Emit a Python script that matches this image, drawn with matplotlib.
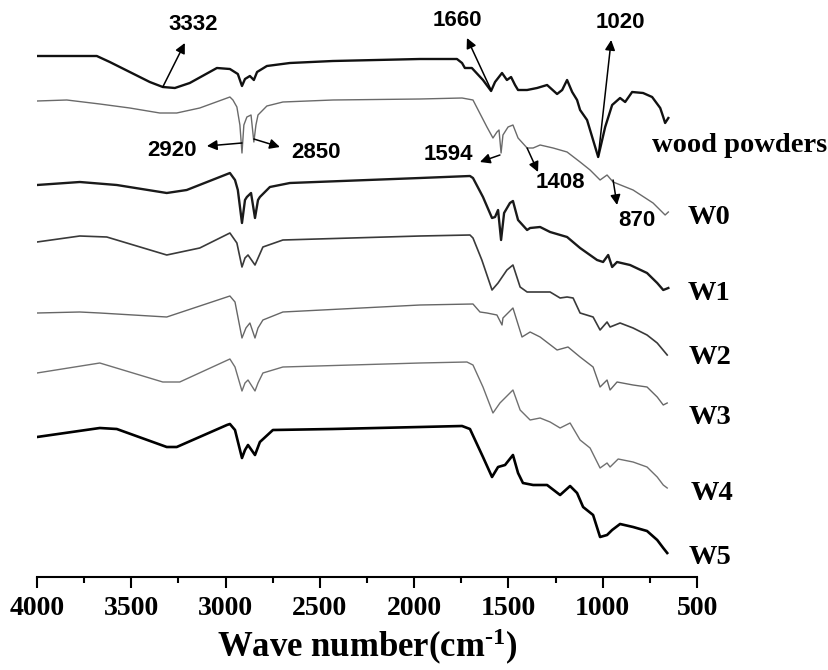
import matplotlib
matplotlib.use("Agg")
import matplotlib.pyplot as plt
from matplotlib.ticker import MultipleLocator

# ---------------- data (wavenumber in cm^-1, stacked transmittance in a.u.) ----------------
wood_wn = [4000, 3683, 3614, 3508, 3402, 3333, 3269, 3190, 3046, 2977, 2935, 2913, 2897, 2871,
           2850, 2833, 2781, 2659, 2431, 1969, 1773, 1746, 1731, 1694, 1635, 1592, 1571, 1534,
           1508, 1486, 1465, 1449, 1401, 1348, 1295, 1242, 1215, 1189, 1162, 1136, 1120, 1083,
           1024, 987, 950, 908, 881, 844, 786, 738, 695, 679, 669, 652]
wood_t = [521, 521, 515, 505, 495, 490, 489, 494, 509, 508, 503, 491, 498, 501,
          497, 505, 511, 514, 516, 518, 518, 514, 509, 509, 497, 486, 495, 504,
          497, 500, 492, 487, 487, 489, 492, 483, 487, 497, 485, 477, 467, 457,
          420, 450, 472, 479, 475, 485, 484, 480, 469, 460, 454, 459]

w0_wn = [4000, 3842, 3667, 3508, 3349, 3259, 3137, 2977, 2961, 2940, 2924, 2913, 2903, 2887,
         2865, 2850, 2839, 2828, 2781, 2696, 2431, 1969, 1746, 1688, 1614, 1582, 1561, 1550,
         1539, 1529, 1502, 1476, 1449, 1401, 1369, 1332, 1263, 1189, 1120, 1067, 1014, 977,
         945, 839, 733, 669, 652]
w0_t = [476, 477, 473, 469, 464, 464, 469, 480, 477, 470, 452, 424, 452, 460,
        462, 435, 452, 462, 471, 475, 477, 478, 479, 477, 450, 439, 445, 447,
        424, 442, 450, 452, 439, 429, 429, 432, 429, 425, 415, 407, 397, 402,
        395, 387, 374, 362, 365]

w1_wn = [4000, 3773, 3577, 3312, 3206, 2977, 2950, 2935, 2913, 2897, 2887, 2865, 2844, 2828,
         2818, 2765, 2659, 1969, 1704, 1688, 1635, 1587, 1571, 1555, 1539, 1523, 1492, 1476,
         1449, 1401, 1385, 1332, 1279, 1189, 1120, 1030, 998, 971, 950, 924, 855, 765, 711,
         679, 652]
w1_t = [392, 395, 392, 384, 387, 404, 397, 387, 354, 377, 380, 384, 359, 377,
        380, 390, 394, 399, 401, 399, 380, 359, 360, 367, 337, 364, 374, 376,
        357, 347, 349, 350, 345, 340, 329, 317, 315, 322, 310, 315, 312, 304, 294,
        287, 289]

w2_wn = [4000, 3773, 3630, 3312, 3137, 2977, 2940, 2913, 2897, 2881, 2844, 2802, 2696, 1969,
         1704, 1688, 1641, 1587, 1555, 1508, 1476, 1438, 1401, 1332, 1279, 1226, 1189, 1157,
         1120, 1051, 1014, 977, 961, 908, 839, 765, 711, 658]
w2_t = [335, 341, 340, 322, 329, 344, 334, 310, 319, 322, 312, 330, 337, 341,
        342, 339, 317, 287, 294, 307, 312, 290, 285, 285, 285, 279, 280, 279,
        264, 260, 247, 255, 250, 254, 249, 242, 234, 222]

w3_wn = [4000, 3773, 3667, 3312, 2993, 2977, 2950, 2913, 2892, 2871, 2844, 2828, 2802, 2696,
         1969, 1688, 1651, 1614, 1561, 1534, 1529, 1476, 1428, 1385, 1332, 1242, 1184, 1120,
         1051, 1014, 977, 961, 924, 839, 765, 711, 679, 658]
w3_t = [264, 265, 264, 260, 280, 281, 275, 239, 249, 254, 239, 249, 257, 265,
        272, 273, 265, 264, 262, 252, 259, 269, 240, 245, 240, 227, 230, 220,
        210, 190, 197, 187, 195, 192, 190, 180, 172, 174]

w4_wn = [4000, 3667, 3333, 3243, 2977, 2950, 2913, 2897, 2881, 2844, 2828, 2802, 2696, 1969,
         1720, 1688, 1635, 1582, 1545, 1476, 1438, 1385, 1332, 1279, 1226, 1173, 1120, 1067,
         1014, 977, 961, 918, 839, 765, 711, 679, 658]
w4_t = [204, 214, 195, 195, 218, 210, 186, 194, 197, 186, 194, 204, 210, 214,
        215, 212, 190, 164, 174, 187, 167, 157, 159, 155, 149, 154, 137, 129,
        109, 114, 110, 118, 115, 110, 100, 92, 89]

w5_wn = [4000, 3667, 3577, 3312, 3259, 2993, 2977, 2950, 2913, 2897, 2881, 2844, 2818, 2749,
         2431, 1969, 1746, 1704, 1635, 1587, 1555, 1518, 1476, 1449, 1423, 1369, 1295, 1226,
         1173, 1136, 1104, 1051, 1014, 977, 950, 908, 839, 765, 711, 679, 658]
w5_t = [140, 149, 148, 130, 130, 152, 153, 147, 119, 127, 132, 122, 135, 147,
        148, 150, 151, 148, 120, 100, 110, 112, 122, 104, 94, 92, 92, 82,
        91, 84, 70, 62, 40, 42, 47, 53, 50, 46, 37, 29, 24]

series_names = ["wood powders", "W0", "W1", "W2", "W3", "W4", "W5"]
peak_labels = ["3332", "2920", "2850", "1660", "1594", "1408", "1020", "870"]
x_ticks = [4000, 3500, 3000, 2500, 2000, 1500, 1000, 500]

# ---------------- figure ----------------
plt.rcParams['mathtext.fontset'] = 'custom'
plt.rcParams['mathtext.rm'] = 'Liberation Serif:bold'
plt.rcParams['mathtext.it'] = 'Liberation Serif:bold'
plt.rcParams['mathtext.bf'] = 'Liberation Serif:bold'

fig = plt.figure(figsize=(8.29, 6.70), dpi=100)
ax = fig.add_axes([37 / 829, 93 / 670, 660 / 829, 577 / 670])

series = [(wood_wn, wood_t), (w0_wn, w0_t), (w1_wn, w1_t), (w2_wn, w2_t),
          (w3_wn, w3_t), (w4_wn, w4_t), (w5_wn, w5_t)]
colors = ["#111111", "#6a6a6a", "#1a1a1a", "#3a3a3a", "#666666", "#707070", "#000000"]
widths = [1.7, 1.0, 1.7, 1.2, 1.0, 1.0, 1.9]
for (wn, t), c, lw in zip(series, colors, widths):
    ax.plot(wn, t, color=c, lw=lw, solid_joinstyle='round')

# curve labels
label_pos = [(738, 432), (552, 360), (552, 284), (547, 220), (547, 159), (536, 84), (547, 20)]
serif = dict(family='Liberation Serif', weight='bold', fontsize=20.5)
for name, (x, y) in zip(series_names, label_pos):
    ax.text(x, y, name, ha='left', va='center', **serif)

# peak annotations: (text position, arrow tail on curve, arrow head)
ann = [((3174, 553), (3333, 490), (3216, 534)),
       ((3284, 426), (2913, 434), (3099, 431)),
       ((2520, 424), (2850, 438), (2712, 430)),
       ((1773, 557), (1592, 487), (1720, 539)),
       ((1819, 423), (1545, 422), (1651, 415)),
       ((1226, 395), (1401, 429), (1343, 405)),
       ((906, 555), (1024, 420), (955, 537)),
       ((818, 357), (945, 397), (924, 372))]
for lab, (tp, tail, head) in zip(peak_labels, ann):
    ax.text(tp[0], tp[1], lab, ha='center', va='center',
            family='Liberation Sans', weight='bold', fontsize=16)
    ax.annotate("", xy=head, xytext=tail,
                arrowprops=dict(arrowstyle='-|>', color='black', lw=1.1,
                                mutation_scale=15, shrinkA=0, shrinkB=0))

ax.set_xlim(4000, 500)
ax.set_ylim(0, 577)
ax.set_xticks(x_ticks)
ax.xaxis.set_minor_locator(MultipleLocator(250))
ax.set_yticks([])
for s in ['left', 'right', 'top']:
    ax.spines[s].set_visible(False)
ax.spines['bottom'].set_linewidth(1.5)
ax.tick_params(axis='x', which='major', direction='out', length=8, width=1.5, pad=6)
ax.tick_params(axis='x', which='minor', direction='out', length=4.5, width=1.5)
for lbl in ax.get_xticklabels():
    lbl.set_family('Liberation Serif')
    lbl.set_weight('bold')
    lbl.set_fontsize(20)
ax.set_xlabel(r"Wave number(cm$^{\text{-1}}$)", family='Liberation Serif', weight='bold',
              fontsize=25, labelpad=4)

fig.savefig("out.png", dpi=100)
